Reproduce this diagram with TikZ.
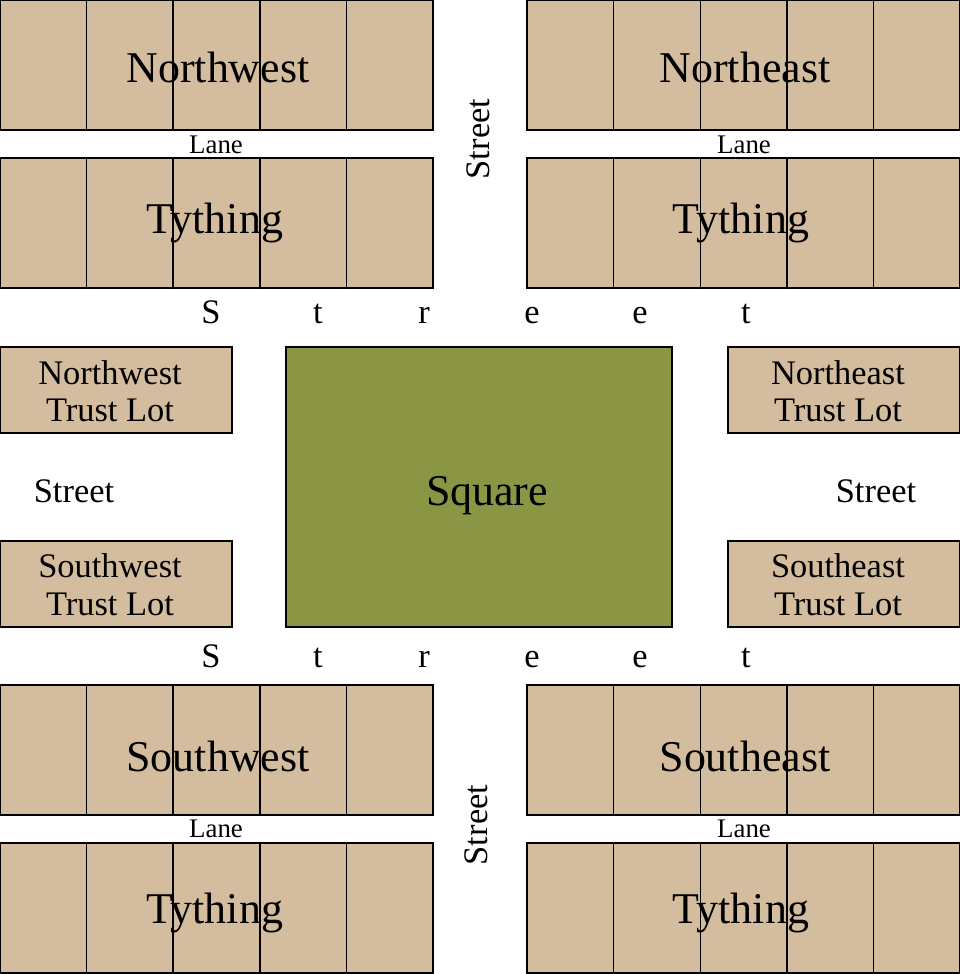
\documentclass[tikz,border=0pt]{standalone}
\usepackage{fontspec}
\setmainfont{Liberation Serif}
\definecolor{lottan}{HTML}{D4BD9E}
\definecolor{squaregreen}{HTML}{8B9645}
\tikzset{
	lot/.style={fill=lottan, draw=black, line width=0.8pt},
	green/.style={fill=squaregreen, draw=black, line width=0.8pt},
	big/.style={anchor=base, inner sep=0pt, font=\fontsize{25}{30}\selectfont},
	mid/.style={anchor=base, inner sep=0pt, font=\fontsize{19.6}{23}\selectfont},
	small/.style={anchor=base, inner sep=0pt, font=\fontsize{15.3}{18}\selectfont}
}
\begin{document}
\begin{tikzpicture}[x=0.02cm, y=-0.02cm]
\useasboundingbox (0,0) rectangle (960,974);
%tythings

	\foreach \x/\y in {0/0, 0/158, 527/0, 527/158, 0/685, 0/843, 527/685, 527/843}{
		\draw[lot] (\x,\y) rectangle ++(433,130);
		\foreach \i in {1,...,4}
			\draw[line width=0.8pt] (\x+\i*86.6,\y) -- ++(0,130);
	}

	\node[big] (nw) at (218,82) {Northwest};
	\node[big] (nwt) at (215,233) {Tything};
	\node[big] (ne) at (745,82) {Northeast};
	\node[big] (net) at (741,233) {Tything};
	\node[big] (sw) at (218,771) {Southwest};
	\node[big] (swt) at (215,923) {Tything};
	\node[big] (se) at (745,771) {Southeast};
	\node[big] (set) at (741,923) {Tything};

	\node[small] (nwl) at (216,153) {Lane};
	\node[small] (nel) at (744,153) {Lane};
	\node[small] (swl) at (216,837) {Lane};
	\node[small] (sel) at (744,837) {Lane};

%trust lots and square

	\foreach \x/\y in {0/347, 0/541, 728/347, 728/541}
		\draw[lot] (\x,\y) rectangle ++(232,86);
	\draw[green] (286,347) rectangle (672,627);
	\node[big] (sq) at (487,505) {Square};

	\node[mid] (nwa) at (110,384) {Northwest};
	\node[mid] (nwb) at (110,421) {Trust Lot};
	\node[mid] (swa) at (110,577) {Southwest};
	\node[mid] (swb) at (110,615) {Trust Lot};
	\node[mid] (nea) at (838,384) {Northeast};
	\node[mid] (neb) at (838,421) {Trust Lot};
	\node[mid] (sea) at (838,577) {Southeast};
	\node[mid] (seb) at (838,615) {Trust Lot};

%streets

	\foreach \x/\l [count=\n] in {211/S, 318/t, 424/r, 532/e, 640/e, 746/t}{
		\node[mid] (top\n) at (\x,323) {\l};
		\node[mid] (bot\n) at (\x,667) {\l};
	}
	\node[mid] (wst) at (74,502) {Street};
	\node[mid] (est) at (876,502) {Street};
	\node[mid, anchor=center, rotate=90] (nst) at (478,139) {Street};
	\node[mid, anchor=center, rotate=90] (sst) at (476,825) {Street};

\end{tikzpicture}
\end{document}
